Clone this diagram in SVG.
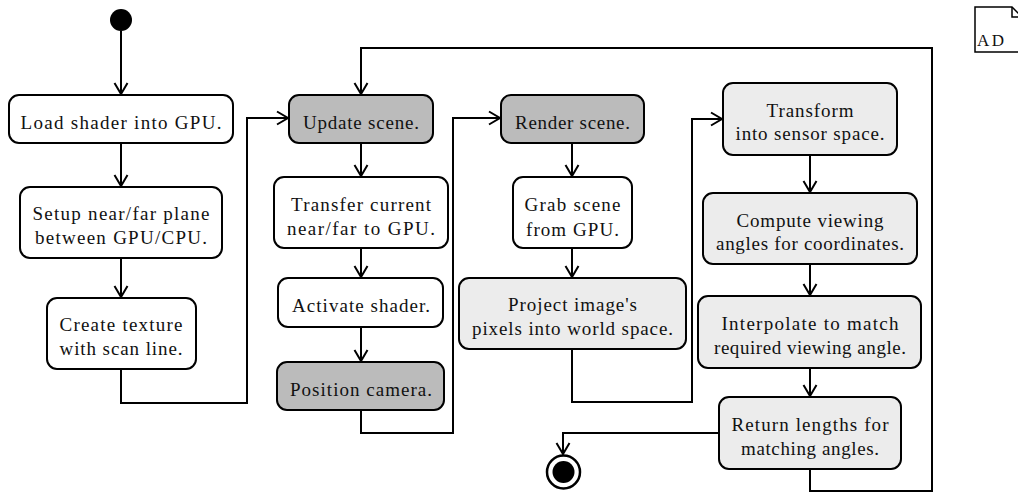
<svg xmlns="http://www.w3.org/2000/svg" width="1018" height="493" viewBox="0 0 1018 493">
<style>
.box{stroke:#000;stroke-width:2}
.w{fill:#fff}
.g{fill:#bbbbbb}
.l{fill:#ececec}
text{font-family:'Times New Roman','Liberation Serif',Tinos,Times,'DejaVu Serif','Noto Serif',serif;font-size:19px;fill:#111;text-anchor:middle}
.c{fill:none;stroke:#000;stroke-width:2}
</style>
<defs>
<marker id="arr" viewBox="-13 -8 15 16" refX="0" refY="0" markerWidth="15" markerHeight="16" markerUnits="userSpaceOnUse" orient="auto">
<path d="M-11,-6.5 L0,0 L-11,6.5" fill="none" stroke="#000" stroke-width="2"/>
</marker>
</defs>
<rect width="1018" height="493" fill="#fff"/>

<g id="connectors">
<path class="c" d="M121,31 V94" marker-end="url(#arr)"/>
<path class="c" d="M121,143 V186" marker-end="url(#arr)"/>
<path class="c" d="M121,258 V297" marker-end="url(#arr)"/>
<path class="c" d="M121,369 V403 H247 V118 H288" marker-end="url(#arr)"/>
<path class="c" d="M361,143 V176" marker-end="url(#arr)"/>
<path class="c" d="M361,248 V277" marker-end="url(#arr)"/>
<path class="c" d="M361,327 V361" marker-end="url(#arr)"/>
<path class="c" d="M361,410 V433 H453 V118 H500" marker-end="url(#arr)"/>
<path class="c" d="M572,143 V176" marker-end="url(#arr)"/>
<path class="c" d="M572,248 V277" marker-end="url(#arr)"/>
<path class="c" d="M572,349 V402 H692 V119 H722" marker-end="url(#arr)"/>
<path class="c" d="M810,155 V192" marker-end="url(#arr)"/>
<path class="c" d="M810,264 V295" marker-end="url(#arr)"/>
<path class="c" d="M810,368 V396" marker-end="url(#arr)"/>
<path class="c" d="M719,433 H563 V454" marker-end="url(#arr)"/>
<path class="c" d="M810,469 V491 H932 V48 H361 V94" marker-end="url(#arr)"/>
</g>

<g id="start"><circle cx="121" cy="20" r="11" fill="#000"/></g>

<g id="load">
<rect class="box w" x="9" y="95" width="224" height="48" rx="10"/>
<text x="121" y="129" textLength="201" lengthAdjust="spacing">Load shader into GPU.</text>
</g>
<g id="setup">
<rect class="box w" x="20" y="187" width="202" height="71" rx="10"/>
<text x="121" y="220" textLength="177" lengthAdjust="spacing">Setup near/far plane</text>
<text x="121" y="244" textLength="172" lengthAdjust="spacing">between GPU/CPU.</text>
</g>
<g id="texture">
<rect class="box w" x="47" y="298" width="149" height="71" rx="10"/>
<text x="121" y="331" textLength="123" lengthAdjust="spacing">Create texture</text>
<text x="121" y="355" textLength="123" lengthAdjust="spacing">with scan line.</text>
</g>

<g id="update">
<rect class="box g" x="289" y="95" width="144" height="48" rx="10"/>
<text x="361" y="129" textLength="116" lengthAdjust="spacing">Update scene.</text>
</g>
<g id="transfer">
<rect class="box w" x="274" y="177" width="174" height="71" rx="10"/>
<text x="361" y="211" textLength="140" lengthAdjust="spacing">Transfer current</text>
<text x="361" y="235" textLength="148" lengthAdjust="spacing">near/far to GPU.</text>
</g>
<g id="activate">
<rect class="box w" x="278" y="278" width="165" height="49" rx="10"/>
<text x="361" y="312" textLength="138" lengthAdjust="spacing">Activate shader.</text>
</g>
<g id="position">
<rect class="box g" x="277" y="362" width="167" height="48" rx="10"/>
<text x="361" y="396" textLength="142" lengthAdjust="spacing">Position camera.</text>
</g>

<g id="render">
<rect class="box g" x="501" y="95" width="143" height="48" rx="10"/>
<text x="572.5" y="129" textLength="115" lengthAdjust="spacing">Render scene.</text>
</g>
<g id="grab">
<rect class="box w" x="513" y="177" width="119" height="71" rx="10"/>
<text x="572.5" y="211" textLength="96" lengthAdjust="spacing">Grab scene</text>
<text x="572.5" y="236" textLength="93" lengthAdjust="spacing">from GPU.</text>
</g>
<g id="project">
<rect class="box l" x="459" y="278" width="227" height="71" rx="10"/>
<text x="572.5" y="311" textLength="129" lengthAdjust="spacing">Project image's</text>
<text x="572.5" y="335" textLength="201" lengthAdjust="spacing">pixels into world space.</text>
</g>

<g id="transform">
<rect class="box l" x="723" y="83" width="174" height="72" rx="10"/>
<text x="810" y="117" textLength="87" lengthAdjust="spacing">Transform</text>
<text x="810" y="140" textLength="149" lengthAdjust="spacing">into sensor space.</text>
</g>
<g id="compute">
<rect class="box l" x="703" y="193" width="214" height="71" rx="10"/>
<text x="810" y="227" textLength="147" lengthAdjust="spacing">Compute viewing</text>
<text x="810" y="250" textLength="188" lengthAdjust="spacing">angles for coordinates.</text>
</g>
<g id="interpolate">
<rect class="box l" x="698" y="296" width="223" height="72" rx="10"/>
<text x="810" y="330" textLength="177" lengthAdjust="spacing">Interpolate to match</text>
<text x="810" y="354" textLength="192" lengthAdjust="spacing">required viewing angle.</text>
</g>
<g id="return">
<rect class="box l" x="719" y="397" width="182" height="72" rx="10"/>
<text x="810" y="431" textLength="157" lengthAdjust="spacing">Return lengths for</text>
<text x="810" y="455" textLength="138" lengthAdjust="spacing">matching angles.</text>
</g>

<g id="ad-icon">
<path d="M975,7 H1012 L1022,17 V52 H975 Z" fill="#fff" stroke="#000" stroke-width="1.5"/>
<path d="M1012,7 V17 H1022" fill="none" stroke="#000" stroke-width="1.5"/>
<text x="977" y="46" style="text-anchor:start;font-size:17px" textLength="27" lengthAdjust="spacing">AD</text>
</g>

<g id="final">
<circle cx="563.5" cy="472" r="16.5" fill="#fff" stroke="#000" stroke-width="2.5"/>
<circle cx="563.5" cy="472" r="11" fill="#000"/>
</g>
</svg>
